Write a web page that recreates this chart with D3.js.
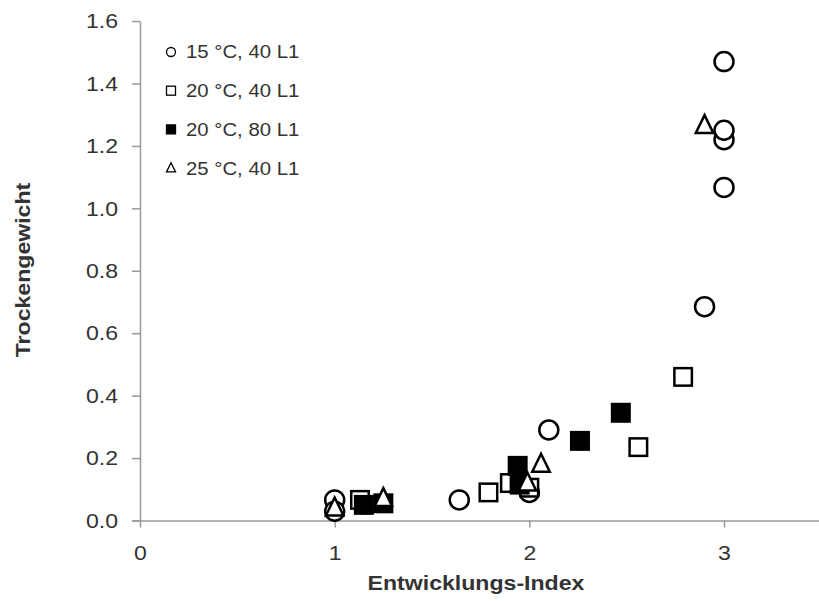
<!DOCTYPE html>
<html>
<head>
<meta charset="utf-8">
<script src="https://cdn.jsdelivr.net/npm/d3@7"></script>
<style>
  body { margin: 0; background: #fff; }
  svg { font-family: "Liberation Sans", Arial, sans-serif; }
</style>
</head>
<body>
<div id="chart"></div>
<script>
// Series data: [Entwicklungs-Index, Trockengewicht]
const s15_40 = [[1.0, 0.066], [1.0, 0.03], [1.64, 0.066], [2.0, 0.09], [2.1, 0.29],
  [2.9, 0.685], [3.0, 1.067], [3.0, 1.22], [3.0, 1.25], [3.0, 1.47]];
const s20_40 = [[1.13, 0.066], [1.79, 0.09], [1.9, 0.12], [2.0, 0.105], [2.56, 0.235], [2.79, 0.46]];
const s20_80 = [[1.15, 0.05], [1.25, 0.055], [1.94, 0.175], [1.95, 0.115], [2.26, 0.255], [2.47, 0.345]];
const s25_40 = [[1.0, 0.04], [1.25, 0.07], [1.99, 0.12], [2.06, 0.18], [2.9, 1.265]];

const seriesNames = ['15 °C, 40 L1', '20 °C, 40 L1', '20 °C, 80 L1', '25 °C, 40 L1'];
const xTicks = [0, 1, 2, 3];
const yTicks = [0, 0.2, 0.4, 0.6, 0.8, 1.0, 1.2, 1.4, 1.6];

const width = 819;
const height = 601;
const margin = { top: 21, left: 140 };

const svg = d3.select('#chart').append('svg')
  .attr('width', width)
  .attr('height', height);

const x = d3.scaleLinear().domain([0, 3.5]).range([margin.left, margin.left + 3.5 * 194.67]);
const y = d3.scaleLinear().domain([0, 1.6]).range([520.5, margin.top]);

const axisColor = '#999';
const textColor = '#333';
const stretch = 'scale(1.1,1)'; // reference text is slightly wide

// X axis
const xAxis = svg.append('g')
  .attr('transform', `translate(0,${y(0)})`)
  .call(d3.axisBottom(x).tickValues(xTicks).tickFormat(d3.format('d')).tickSize(7).tickSizeOuter(0));
xAxis.select('.domain').attr('stroke', axisColor).attr('stroke-width', 1.5)
  .attr('d', `M${x(0) - 8},0.5H${width}`);
xAxis.selectAll('.tick line').attr('stroke', axisColor).attr('stroke-width', 1.5);
xAxis.selectAll('.tick text').attr('fill', textColor).attr('font-size', 21)
  .attr('font-family', '"Liberation Sans", Arial, sans-serif')
  .attr('y', 32).attr('dy', '0.35em').attr('transform', stretch);

// Y axis
const yAxis = svg.append('g')
  .attr('transform', `translate(${x(0)},0)`)
  .call(d3.axisLeft(y).tickValues(yTicks).tickFormat(d3.format('.1f')).tickSize(8).tickSizeOuter(0));
yAxis.select('.domain').attr('stroke', axisColor).attr('stroke-width', 1.5);
yAxis.selectAll('.tick line').attr('stroke', axisColor).attr('stroke-width', 1.5);
yAxis.selectAll('.tick text').attr('fill', textColor).attr('font-size', 21)
  .attr('font-family', '"Liberation Sans", Arial, sans-serif')
  .attr('x', -20).attr('transform', stretch);

// Axis titles
svg.append('text')
  .attr('transform', `translate(476,590) ${stretch}`)
  .attr('text-anchor', 'middle')
  .attr('font-size', 21).attr('font-weight', 'bold').attr('fill', textColor)
  .text('Entwicklungs-Index');

svg.append('text')
  .attr('transform', `translate(30,270) rotate(-90) ${stretch}`)
  .attr('text-anchor', 'middle')
  .attr('font-size', 21).attr('font-weight', 'bold').attr('fill', textColor)
  .text('Trockengewicht');

// Marker drawing helper
function drawMarker(g, type, size, filled, sw) {
  const h = size / 2;
  const fill = filled ? '#000' : '#fff';
  if (type === 'circle') {
    g.append('circle').attr('r', h).attr('fill', fill)
      .attr('stroke', '#000').attr('stroke-width', sw);
  } else if (type === 'square') {
    g.append('rect').attr('x', -h).attr('y', -h).attr('width', size).attr('height', size)
      .attr('fill', fill).attr('stroke', '#000').attr('stroke-width', sw);
  } else {
    g.append('path').attr('d', `M0,${-h * 1.2}L${h},${h * 0.85}L${-h},${h * 0.85}Z`)
      .attr('fill', fill).attr('stroke', '#000').attr('stroke-width', sw)
      .attr('stroke-linejoin', 'miter');
  }
}

const series = [
  { data: s15_40, type: 'circle', filled: false },
  { data: s20_40, type: 'square', filled: false },
  { data: s20_80, type: 'square', filled: true },
  { data: s25_40, type: 'triangle', filled: false }
];

series.forEach((s) => {
  svg.append('g').selectAll('g')
    .data(s.data)
    .join('g')
    .attr('transform', (d) => `translate(${x(d[0])},${y(d[1])})`)
    .each(function () {
      drawMarker(d3.select(this), s.type, s.type === 'circle' ? 19 : 17.5, s.filled, 2.5);
    });
});

// Legend
const legend = svg.append('g').attr('transform', 'translate(171,52)');
series.forEach((s, i) => {
  const row = legend.append('g').attr('transform', `translate(0,${i * 38.7})`);
  drawMarker(row, s.type, 9, s.filled, 1.3);
  row.append('text')
    .attr('transform', `translate(15,0) ${stretch}`)
    .attr('dy', '0.35em')
    .attr('font-size', 18.5).attr('fill', textColor)
    .text(seriesNames[i]);
});
</script>
</body>
</html>
